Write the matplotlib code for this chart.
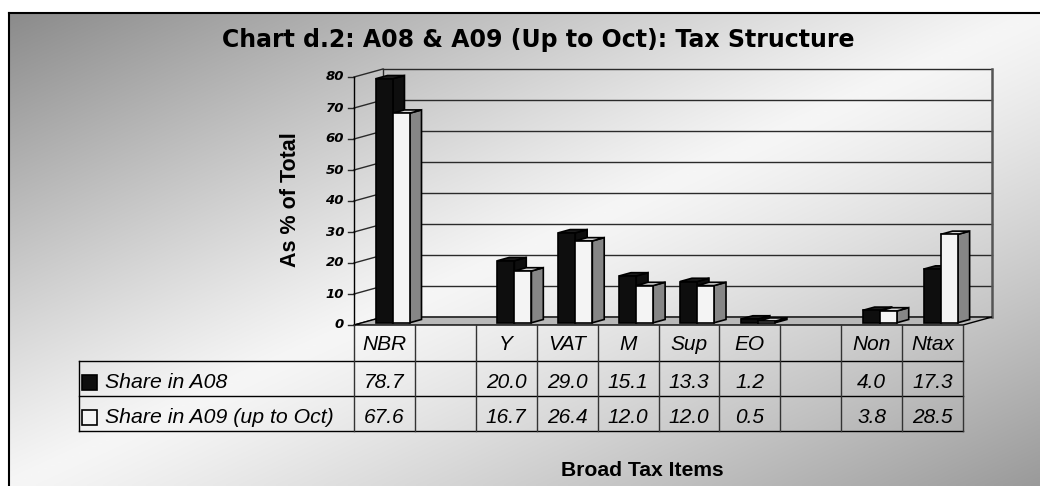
import numpy as np
import matplotlib.pyplot as plt
from matplotlib.patches import Polygon, Rectangle

plt.rcParams['font.family'] = ['Liberation Sans', 'DejaVu Sans']

# data
categories = ["NBR", "", "Y", "VAT", "M", "Sup", "EO", "", "Non", "Ntax"]
share_a08 = [78.7, np.nan, 20.0, 29.0, 15.1, 13.3, 1.2, np.nan, 4.0, 17.3]
share_a09 = [67.6, np.nan, 16.7, 26.4, 12.0, 12.0, 0.5, np.nan, 3.8, 28.5]
series_names = ["Share in A08", "Share in A09 (up to Oct)"]
y_ticks = [0, 10, 20, 30, 40, 50, 60, 70, 80]

# layout (pixels)
W, H = 1040, 486
X0, CELL = 354, 60.9      # left of first category, width of a category
Y0, UNIT = 325, 3.1       # pixel row of value 0, pixels per value unit
DX, DY = 29 / CELL, 8 / UNIT   # depth offset of back wall, in data units

fig = plt.figure(figsize=(W / 100, H / 100), dpi=100)

# background gradient + outer frame
bg = fig.add_axes([0, 0, 1, 1])
bg.set_xlim(0, W)
bg.set_ylim(H, 0)
bg.axis('off')
uu, vv = np.meshgrid(np.linspace(0, 1, 300), np.linspace(0, 1, 150))
s = uu + vv - 1.0
shade = np.where(s < 0, 0.965 - 0.42 * np.abs(s) ** 1.1, 0.965 - 0.36 * s ** 1.2)
bg.imshow(np.dstack([shade] * 3), extent=[9, W, H, 13], aspect='auto',
          interpolation='bilinear', zorder=0)
bg.plot([9, 9], [H, 13], color='black', lw=1.5, zorder=1)
bg.plot([9, W], [13, 13], color='black', lw=1.5, zorder=1)

bg.text(538, 47, "Chart d.2: A08 & A09 (Up to Oct): Tax Structure",
        ha='center', va='baseline', fontsize=17, fontweight='bold',
        family='DejaVu Sans')
bg.text(290, 200, "As % of Total", rotation=90, ha='center', va='center',
        fontsize=15.5, fontweight='bold')
bg.text(642, 476, "Broad Tax Items", ha='center', va='baseline',
        fontsize=15.2, fontweight='bold')

# main chart axes in data units
ax = fig.add_axes([0, 0, 1, 1])
ax.patch.set_alpha(0)
ax.axis('off')
ax.set_xlim(-X0 / CELL, (W - X0) / CELL)
ax.set_ylim((Y0 - H) / UNIT, Y0 / UNIT)

n = len(categories)
ymax = y_ticks[-1]

# floor
ax.add_patch(Polygon([(0, 0), (n, 0), (n + DX, DY), (DX, DY)],
                     closed=True, fc='#b8b8b8', ec='black', lw=1, zorder=2))
# back wall gridlines and edges
for t in y_ticks:
    ax.plot([DX, n + DX], [t + DY, t + DY], color='#2a2a2a', lw=1, zorder=1)
    ax.plot([0, DX], [t, t + DY], color='#2a2a2a', lw=1, zorder=1)
    ax.plot([-6 / CELL, 0], [t, t], color='#2a2a2a', lw=1, zorder=1)
    ax.text(-10 / CELL, t, f"{t}", ha='right', va='center', fontsize=9.5,
            fontweight='bold', fontstyle='italic', family='DejaVu Sans')
ax.plot([DX, DX], [DY, ymax + DY], color='#2a2a2a', lw=1, zorder=1)
ax.plot([n + DX, n + DX], [DY, ymax + DY], color='#555555', lw=1.8, zorder=1)
ax.plot([0, 0], [0, ymax], color='black', lw=1, zorder=1)

# 3d bars
df, bd, bw, off = 0.28, 0.41, 0.28, 0.22


def bar3d(xl, h, front, side, top):
    fx, fy = xl + df * DX, df * DY
    sx, sy = bd * DX, bd * DY
    kw = dict(closed=True, ec='black', lw=1.2, zorder=3)
    ax.add_patch(Polygon([(fx + bw, fy), (fx + bw + sx, fy + sy),
                          (fx + bw + sx, fy + h + sy), (fx + bw, fy + h)],
                         fc=side, **kw))
    ax.add_patch(Polygon([(fx, fy + h), (fx + bw, fy + h),
                          (fx + bw + sx, fy + h + sy), (fx + sx, fy + h + sy)],
                         fc=top, **kw))
    ax.add_patch(Polygon([(fx, fy), (fx + bw, fy), (fx + bw, fy + h), (fx, fy + h)],
                         fc=front, **kw))


for i in range(n):
    if not np.isnan(share_a08[i]):
        bar3d(i + off, share_a08[i], '#0e0e0e', '#0e0e0e', '#1c1c1c')
    if not np.isnan(share_a09[i]):
        bar3d(i + off + bw, share_a09[i], '#f4f4f4', '#868686', '#d4d4d4')

# data table
r1, r2, r3 = -36 / UNIT, -71 / UNIT, -106 / UNIT
base0, base1, base2 = -25 / UNIT, -63 / UNIT, -98 / UNIT   # text baselines
leg_x = (79 - X0) / CELL
tab_kw = dict(color='black', lw=1, zorder=2)
ax.plot([leg_x, n], [r1, r1], **tab_kw)
ax.plot([leg_x, n], [r2, r2], **tab_kw)
ax.plot([leg_x, n], [r3, r3], **tab_kw)
ax.plot([leg_x, leg_x], [r1, r3], **tab_kw)
for i in range(n + 1):
    ax.plot([i, i], [0, r3], color='#333333', lw=1, zorder=2)

txt = dict(ha='center', va='baseline', fontsize=15, fontstyle='italic')
for i, c in enumerate(categories):
    ax.text(i + 0.5, base0, c, **txt)
    if not np.isnan(share_a08[i]):
        ax.text(i + 0.5, base1, f"{share_a08[i]:.1f}", **txt)
    if not np.isnan(share_a09[i]):
        ax.text(i + 0.5, base2, f"{share_a09[i]:.1f}", **txt)

# legend keys inside the table
key_w, key_h = 15 / CELL, 15 / UNIT
for base, name, fc in [(base1, series_names[0], '#0e0e0e'),
                       (base2, series_names[1], '#f4f4f4')]:
    yc = base + 6 / UNIT
    ax.add_patch(Rectangle(((82 - X0) / CELL, yc - key_h / 2), key_w, key_h,
                           fc=fc, ec='black', lw=1.2, zorder=3))
    ax.text((105 - X0) / CELL, base, name, ha='left', va='baseline',
            fontsize=15.3, fontstyle='italic')

fig.savefig("out.png", dpi=100)
